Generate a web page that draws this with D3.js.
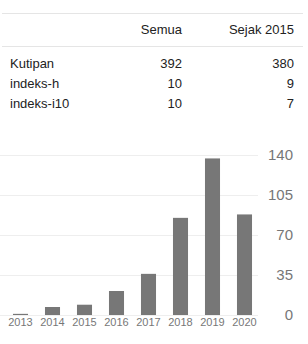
<!DOCTYPE html>
<html>
<head>
<meta charset="utf-8">
<script src="https://cdn.jsdelivr.net/npm/d3@7"></script>
<style>
  body { margin: 0; background: #fff; }
  svg { display: block; font-family: Arial, "Liberation Sans", sans-serif; }
</style>
</head>
<body>
<div id="chart"></div>
<script>
// table data
var headers = ["Semua", "Sejak 2015"];
var rowLabels = ["Kutipan", "indeks-h", "indeks-i10"];
var allValues = [392, 10, 10];
var sinceValues = [380, 9, 7];

// citations per year
var years = ["2013", "2014", "2015", "2016", "2017", "2018", "2019", "2020"];
var citations = [1, 7, 9, 21, 36, 85, 137, 88];
var yTicks = [0, 35, 70, 105, 140];

var width = 308, height = 344;

var svg = d3.select("#chart")
  .append("svg")
    .attr("width", width)
    .attr("height", height);

// table lines
svg.append("line")
  .attr("x1", 2).attr("x2", 303)
  .attr("y1", 13.5).attr("y2", 13.5)
  .style("stroke", "#e5e5e5");
svg.append("line")
  .attr("x1", 2).attr("x2", 303)
  .attr("y1", 46.5).attr("y2", 46.5)
  .style("stroke", "#e5e5e5");

var colRight = [182, 294];

// header
svg.selectAll(".hdr")
  .data(headers)
  .enter()
  .append("text")
    .attr("class", "hdr")
    .attr("x", function(d, i) { return colRight[i]; })
    .attr("y", 34)
    .attr("text-anchor", "end")
    .attr("font-size", "13px")
    .attr("fill", "#222")
    .text(function(d) { return d; });

// rows
var rows = svg.selectAll(".row")
  .data(rowLabels)
  .enter()
  .append("g")
    .attr("class", "row")
    .attr("transform", function(d, i) { return "translate(0," + (68 + i * 20) + ")"; });

rows.append("text")
  .attr("x", 10)
  .attr("font-size", "13px")
  .attr("fill", "#222")
  .text(function(d) { return d; });

rows.append("text")
  .attr("x", colRight[0])
  .attr("text-anchor", "end")
  .attr("font-size", "13px")
  .attr("fill", "#222")
  .text(function(d, i) { return allValues[i]; });

rows.append("text")
  .attr("x", colRight[1])
  .attr("text-anchor", "end")
  .attr("font-size", "13px")
  .attr("fill", "#222")
  .text(function(d, i) { return sinceValues[i]; });

// chart
var x = d3.scaleBand()
  .domain(years)
  .range([4.5, 260.5])
  .paddingInner(0.53)
  .paddingOuter(0.265);

var y = d3.scaleLinear()
  .domain([0, 140])
  .range([315, 155]);

// gridlines
svg.append("g")
  .selectAll("line")
  .data(yTicks)
  .enter()
  .append("line")
    .attr("x1", 0).attr("x2", 258)
    .attr("y1", function(d) { return Math.round(y(d)) + 0.5; })
    .attr("y2", function(d) { return Math.round(y(d)) + 0.5; })
    .style("stroke", "#eeeeee");

// y labels on the right
svg.append("g")
  .selectAll("text")
  .data(yTicks)
  .enter()
  .append("text")
    .attr("x", 293)
    .attr("y", function(d) { return y(d); })
    .attr("dy", "0.35em")
    .attr("text-anchor", "end")
    .attr("font-size", "15px")
    .attr("fill", "#777")
    .text(function(d) { return d; });

// bars
svg.append("g")
  .selectAll("rect")
  .data(citations)
  .enter()
  .append("rect")
    .attr("x", function(d, i) { return x(years[i]); })
    .attr("width", x.bandwidth())
    .attr("y", function(d) { return y(d); })
    .attr("height", function(d) { return y(0) - y(d); })
    .style("fill", "#777");

// year labels
svg.append("g")
  .selectAll("text")
  .data(years)
  .enter()
  .append("text")
    .attr("x", function(d) { return x(d) + x.bandwidth() / 2; })
    .attr("y", 326)
    .attr("text-anchor", "middle")
    .attr("font-size", "11px")
    .attr("fill", "#777")
    .text(function(d) { return d; });
</script>
</body>
</html>
